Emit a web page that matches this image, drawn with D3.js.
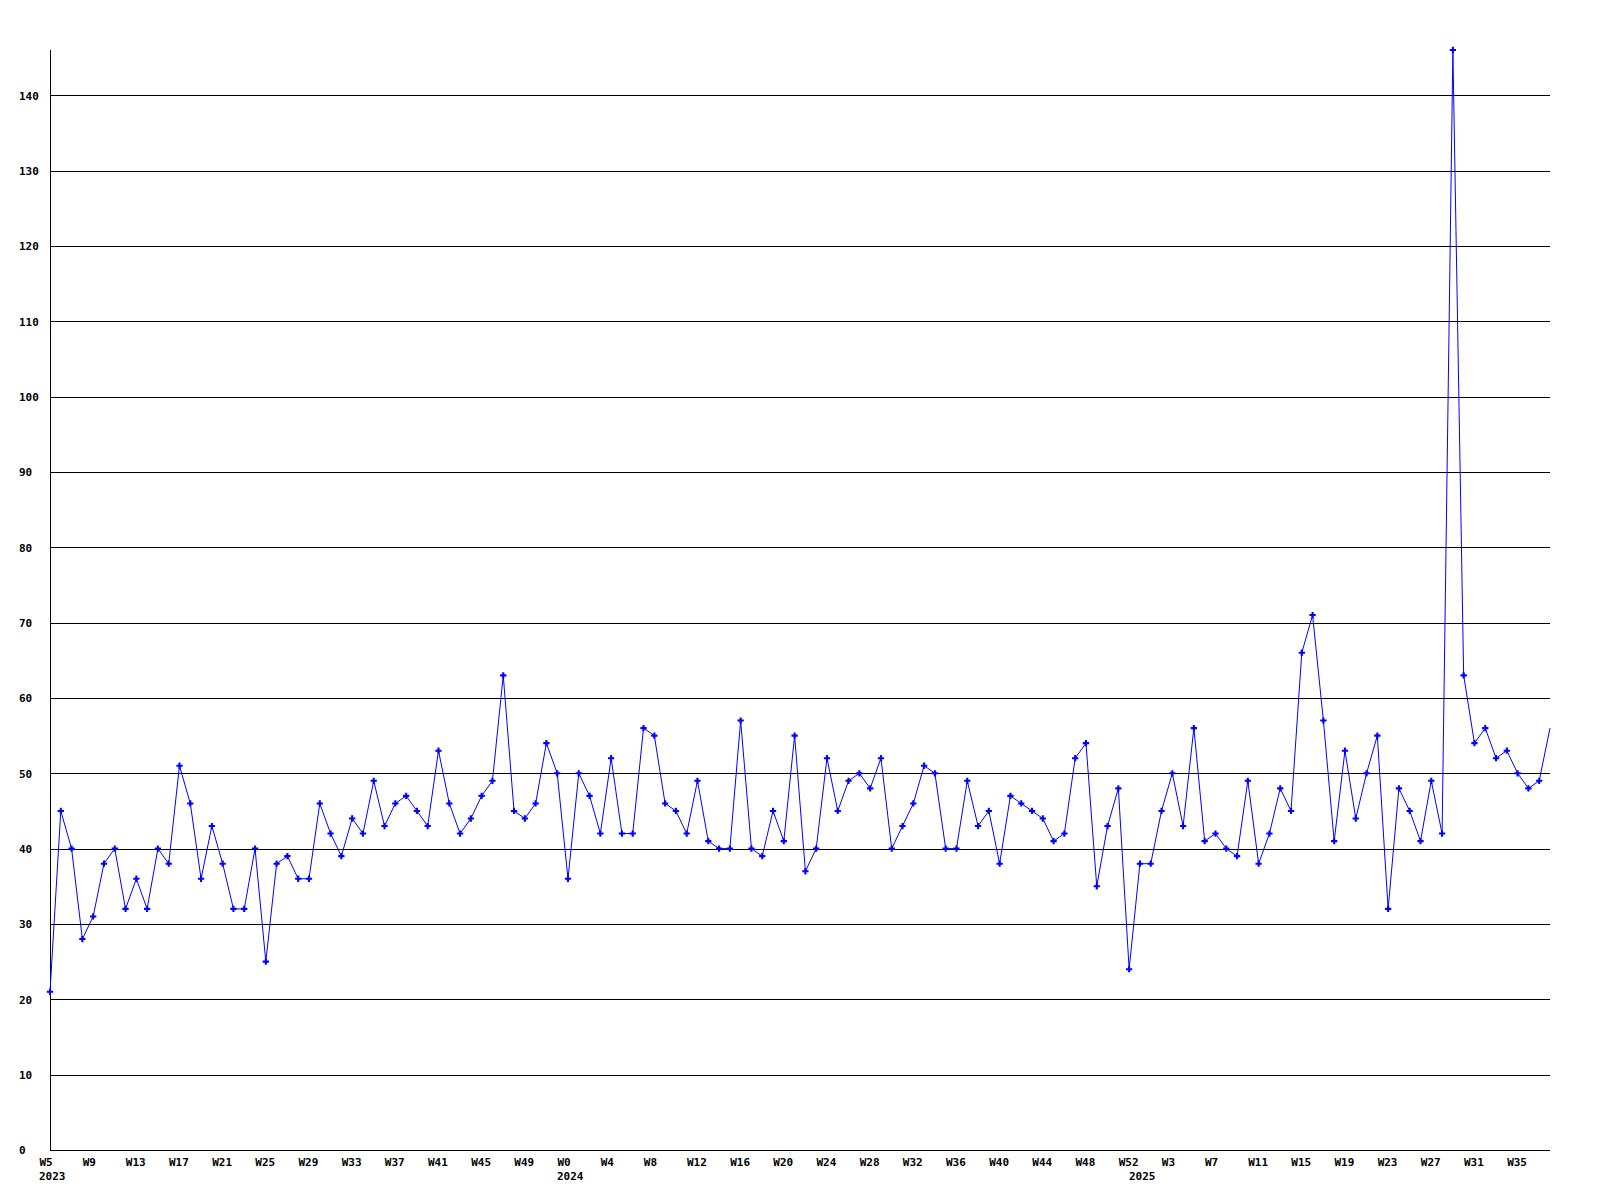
<!DOCTYPE html>
<html>
<head>
<meta charset="utf-8">
<script src="https://cdn.jsdelivr.net/npm/d3@7"></script>
<style>
  body { margin: 0; background: #fff; }
  svg { display: block; }
  text { font-family: "DejaVu Sans Mono", monospace; font-weight: bold; font-size: 11px; fill: #000; }
  .grid line, .grid path, .axis path, .axis line { shape-rendering: crispEdges; }
</style>
</head>
<body>
<svg id="chart" width="1600" height="1200"></svg>
<script>
// week number of each point (resets mark a new year)
const weeks = [
  5, 6, 7, 8, 9, 10, 11, 12, 13, 14, 15, 16, 17, 18, 19, 20, 21, 22, 23, 24, 25, 26, 27, 28,
  29, 30, 31, 32, 33, 34, 35, 36, 37, 38, 39, 40, 41, 42, 43, 44, 45, 46, 47, 48, 49, 50, 51, 52,
  0, 1, 2, 3, 4, 5, 6, 7, 8, 9, 10, 11, 12, 13, 14, 15, 16, 17, 18, 19, 20, 21, 22, 23, 24, 25, 26,
  27, 28, 29, 30, 31, 32, 33, 34, 35, 36, 37, 38, 39, 40, 41, 42, 43, 44, 45, 46, 47, 48, 49, 50, 51, 52,
  0, 1, 2, 3, 4, 5, 6, 7, 8, 9, 10, 11, 12, 13, 14, 15, 16, 17, 18, 19,
  20, 21, 22, 23, 24, 25, 26, 27, 28, 29, 30, 31, 32, 33, 34, 35, 36, 37, 38
];
const years = ["2023", "2024", "2025"];

const values = [
  21, 45, 40, 28, 31, 38, 40, 32, 36, 32,
  40, 38, 51, 46, 36, 43, 38, 32, 32, 40,
  25, 38, 39, 36, 36, 46, 42, 39, 44, 42,
  49, 43, 46, 47, 45, 43, 53, 46, 42, 44,
  47, 49, 63, 45, 44, 46, 54, 50, 36, 50,
  47, 42, 52, 42, 42, 56, 55, 46, 45, 42,
  49, 41, 40, 40, 57, 40, 39, 45, 41, 55,
  37, 40, 52, 45, 49, 50, 48, 52, 40, 43,
  46, 51, 50, 40, 40, 49, 43, 45, 38, 47,
  46, 45, 44, 41, 42, 52, 54, 35, 43, 48,
  24, 38, 38, 45, 50, 43, 56, 41, 42, 40,
  39, 49, 38, 42, 48, 45, 66, 71, 57, 41,
  53, 44, 50, 55, 32, 48, 45, 41, 49, 42,
  146, 63, 54, 56, 52, 53, 50, 48, 49, 56
];

const yTicks = [0, 10, 20, 30, 40, 50, 60, 70, 80, 90, 100, 110, 120, 130, 140];

const svg = d3.select("#chart");
const mLeft = 50, mRight = 1550, mTop = 50, mBottom = 1150;

const x = d3.scaleLinear().domain([0, values.length - 1]).range([mLeft, mRight]);
const y = d3.scaleLinear().domain([0, d3.max(values)]).range([mBottom, mTop]);

// horizontal grid
svg.append("g")
    .attr("class", "grid")
    .attr("transform", `translate(${mLeft},0)`)
    .call(d3.axisLeft(y).tickValues(yTicks.slice(1)).tickSize(-(mRight - mLeft)).tickFormat(""))
    .call(g => g.select(".domain").remove())
    .selectAll("line").attr("stroke", "#000");

// y axis, labels left-aligned at the page edge
const yAxis = svg.append("g")
    .attr("class", "axis")
    .attr("transform", `translate(${mLeft},0)`)
    .call(d3.axisLeft(y).tickValues(yTicks).tickSize(0).tickPadding(0));
yAxis.attr("font-family", null).attr("font-size", null);
yAxis.select(".domain").attr("stroke", "#000").attr("d", `M0.5,${mTop}V${mBottom}`);
yAxis.selectAll("text")
    .attr("x", 19 - mLeft)
    .attr("dy", "0.36em")
    .style("text-anchor", "start");

// x axis
const labelIdx = d3.range(0, values.length, 4);
const xAxis = svg.append("g")
    .attr("class", "axis")
    .attr("transform", `translate(0,${mBottom})`)
    .call(d3.axisBottom(x).tickValues(labelIdx).tickSize(0).tickFormat(i => "W" + weeks[i]));
xAxis.attr("font-family", null).attr("font-size", null);
xAxis.select(".domain").attr("stroke", "#000").attr("d", `M${mLeft},0.5H${mRight}`);
xAxis.selectAll("text")
    .attr("x", -11)
    .attr("y", 16)
    .attr("dy", null)
    .style("text-anchor", "start");

// year labels under the first week of each year
const yearStart = weeks.map((w, i) => i).filter(i => i === 0 || weeks[i] < weeks[i - 1]);
svg.append("g")
    .selectAll("text")
    .data(yearStart)
    .enter()
    .append("text")
    .attr("x", i => x(i) - 11)
    .attr("y", mBottom + 30)
    .text((i, k) => years[k]);

// series
const line = d3.line().x((d, i) => x(i)).y(d => y(d));
svg.append("path")
    .datum(values)
    .attr("fill", "none")
    .attr("stroke", "#0000ff")
    .attr("stroke-width", 1)
    .attr("d", line);

svg.append("g")
    .selectAll("path")
    .data(values.slice(0, -1))
    .enter()
    .append("path")
    .attr("transform", (d, i) => `translate(${x(i)},${y(d)})`)
    .attr("d", d3.symbol(d3.symbolCross, 22))
    .attr("fill", "#0000ff");
</script>
</body>
</html>
